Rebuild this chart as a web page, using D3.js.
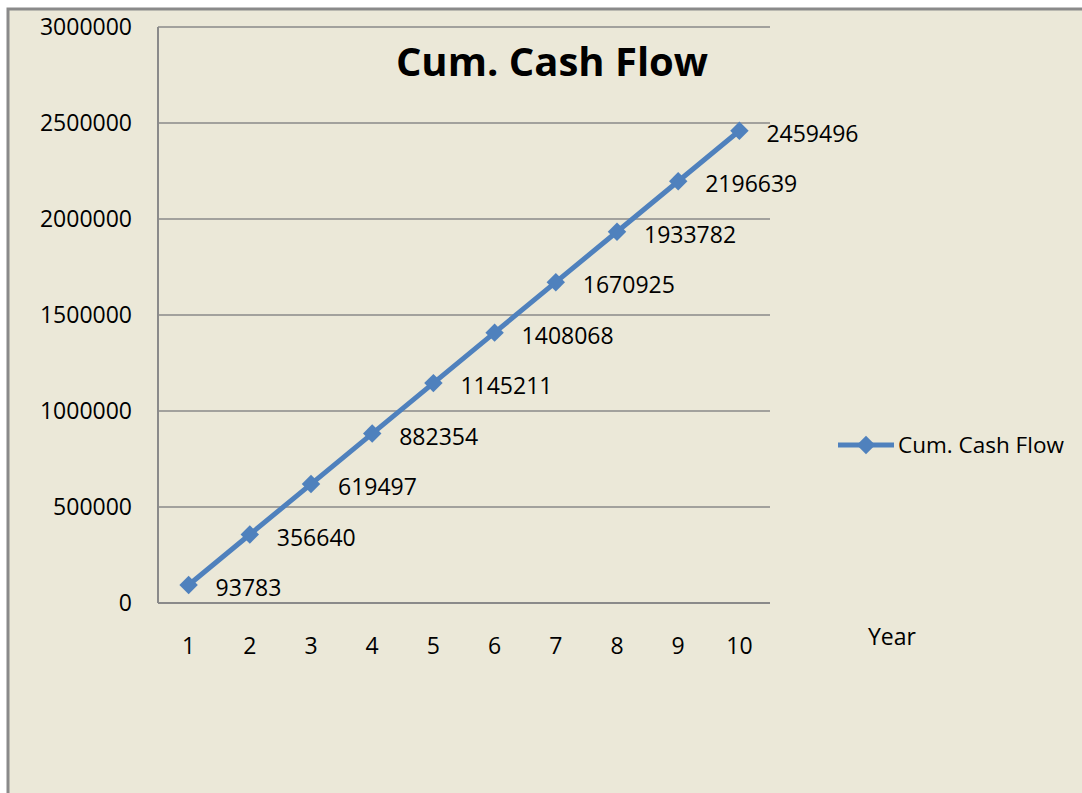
<!DOCTYPE html>
<html>
<head>
<meta charset="utf-8">
<script src="https://cdn.jsdelivr.net/npm/d3@7"></script>
<style>
  body { margin: 0; background: #fff; }
  text { font-family: "Open Sans", Lato, sans-serif; fill: #000; }
</style>
</head>
<body>
<script>
const years = ["1", "2", "3", "4", "5", "6", "7", "8", "9", "10"];
const cumCashFlow = [93783, 356640, 619497, 882354, 1145211, 1408068, 1670925, 1933782, 2196639, 2459496];
const yTicks = [0, 500000, 1000000, 1500000, 2000000, 2500000, 3000000];
const seriesName = "Cum. Cash Flow";

const W = 1082, H = 793;
const svg = d3.select("body").append("svg").attr("width", W).attr("height", H);

// chart area background + border
svg.append("rect").attr("x", 8).attr("y", 9).attr("width", W - 8).attr("height", H - 9)
  .attr("fill", "#ebe8d8");
svg.append("path").attr("d", `M8,${H} V9 H${W}`)
  .attr("fill", "none").attr("stroke", "#8a8a8a").attr("stroke-width", 3);

const plot = { left: 158, right: 770, top: 27, bottom: 603 };

const x = d3.scaleBand().domain(years).range([plot.left, plot.right]);
const y = d3.scaleLinear().domain([0, 3000000]).range([plot.bottom, plot.top]);

// gridlines
svg.append("g").selectAll("line").data(yTicks.slice(1)).join("line")
  .attr("x1", plot.left).attr("x2", plot.right)
  .attr("y1", d => y(d)).attr("y2", d => y(d))
  .attr("stroke", "#8a8a8a").attr("stroke-width", 1.5);

// axes lines
svg.append("line").attr("x1", plot.left).attr("x2", plot.left)
  .attr("y1", plot.top).attr("y2", plot.bottom)
  .attr("stroke", "#8a8a8a").attr("stroke-width", 2);
svg.append("line").attr("x1", plot.left).attr("x2", plot.right)
  .attr("y1", plot.bottom).attr("y2", plot.bottom)
  .attr("stroke", "#8a8a8a").attr("stroke-width", 2);

// y tick labels
svg.append("g").selectAll("text").data(yTicks).join("text")
  .attr("x", 132).attr("y", d => y(d))
  .attr("dy", "0.35em").attr("text-anchor", "end")
  .style("font-size", "23px")
  .text(d => d);

// x tick labels
svg.append("g").selectAll("text").data(years).join("text")
  .attr("x", d => x(d) + x.bandwidth() / 2).attr("y", 646)
  .attr("dy", "0.35em").attr("text-anchor", "middle")
  .style("font-size", "23px")
  .text(d => d);

svg.append("text").attr("x", 892).attr("y", 637).attr("dy", "0.35em")
  .attr("text-anchor", "middle").style("font-size", "23px").text("Year");

// title
svg.append("text").attr("x", 552).attr("y", 62).attr("dy", "0.35em")
  .attr("text-anchor", "middle").style("font-size", "40px").style("font-weight", "bold")
  .text(seriesName);

// series
const pts = years.map((d, i) => ({ year: d, v: cumCashFlow[i] }));
const line = d3.line().x(d => x(d.year) + x.bandwidth() / 2).y(d => y(d.v));
svg.append("path").datum(pts).attr("d", line)
  .attr("fill", "none").attr("stroke", "#4f81bd").attr("stroke-width", 5);

const diamond = d3.symbol().type(d3.symbolSquare).size(170);
svg.append("g").selectAll("path").data(pts).join("path")
  .attr("d", diamond)
  .attr("transform", d => `translate(${x(d.year) + x.bandwidth() / 2},${y(d.v)}) rotate(45)`)
  .attr("fill", "#4f81bd");

svg.append("g").selectAll("text").data(pts).join("text")
  .attr("x", d => x(d.year) + x.bandwidth() / 2 + 27)
  .attr("y", d => y(d.v) + 3).attr("dy", "0.35em")
  .style("font-size", "23px")
  .text(d => d.v);

// legend
const lg = svg.append("g").attr("transform", "translate(838,445)");
lg.append("line").attr("x1", 0).attr("x2", 56).attr("y1", 0).attr("y2", 0)
  .attr("stroke", "#4f81bd").attr("stroke-width", 5);
lg.append("path").attr("d", diamond).attr("transform", "translate(28,0) rotate(45)").attr("fill", "#4f81bd");
lg.append("text").attr("x", 60).attr("y", 0).attr("dy", "0.35em")
  .style("font-size", "22.5px").text(seriesName);
</script>
</body>
</html>
